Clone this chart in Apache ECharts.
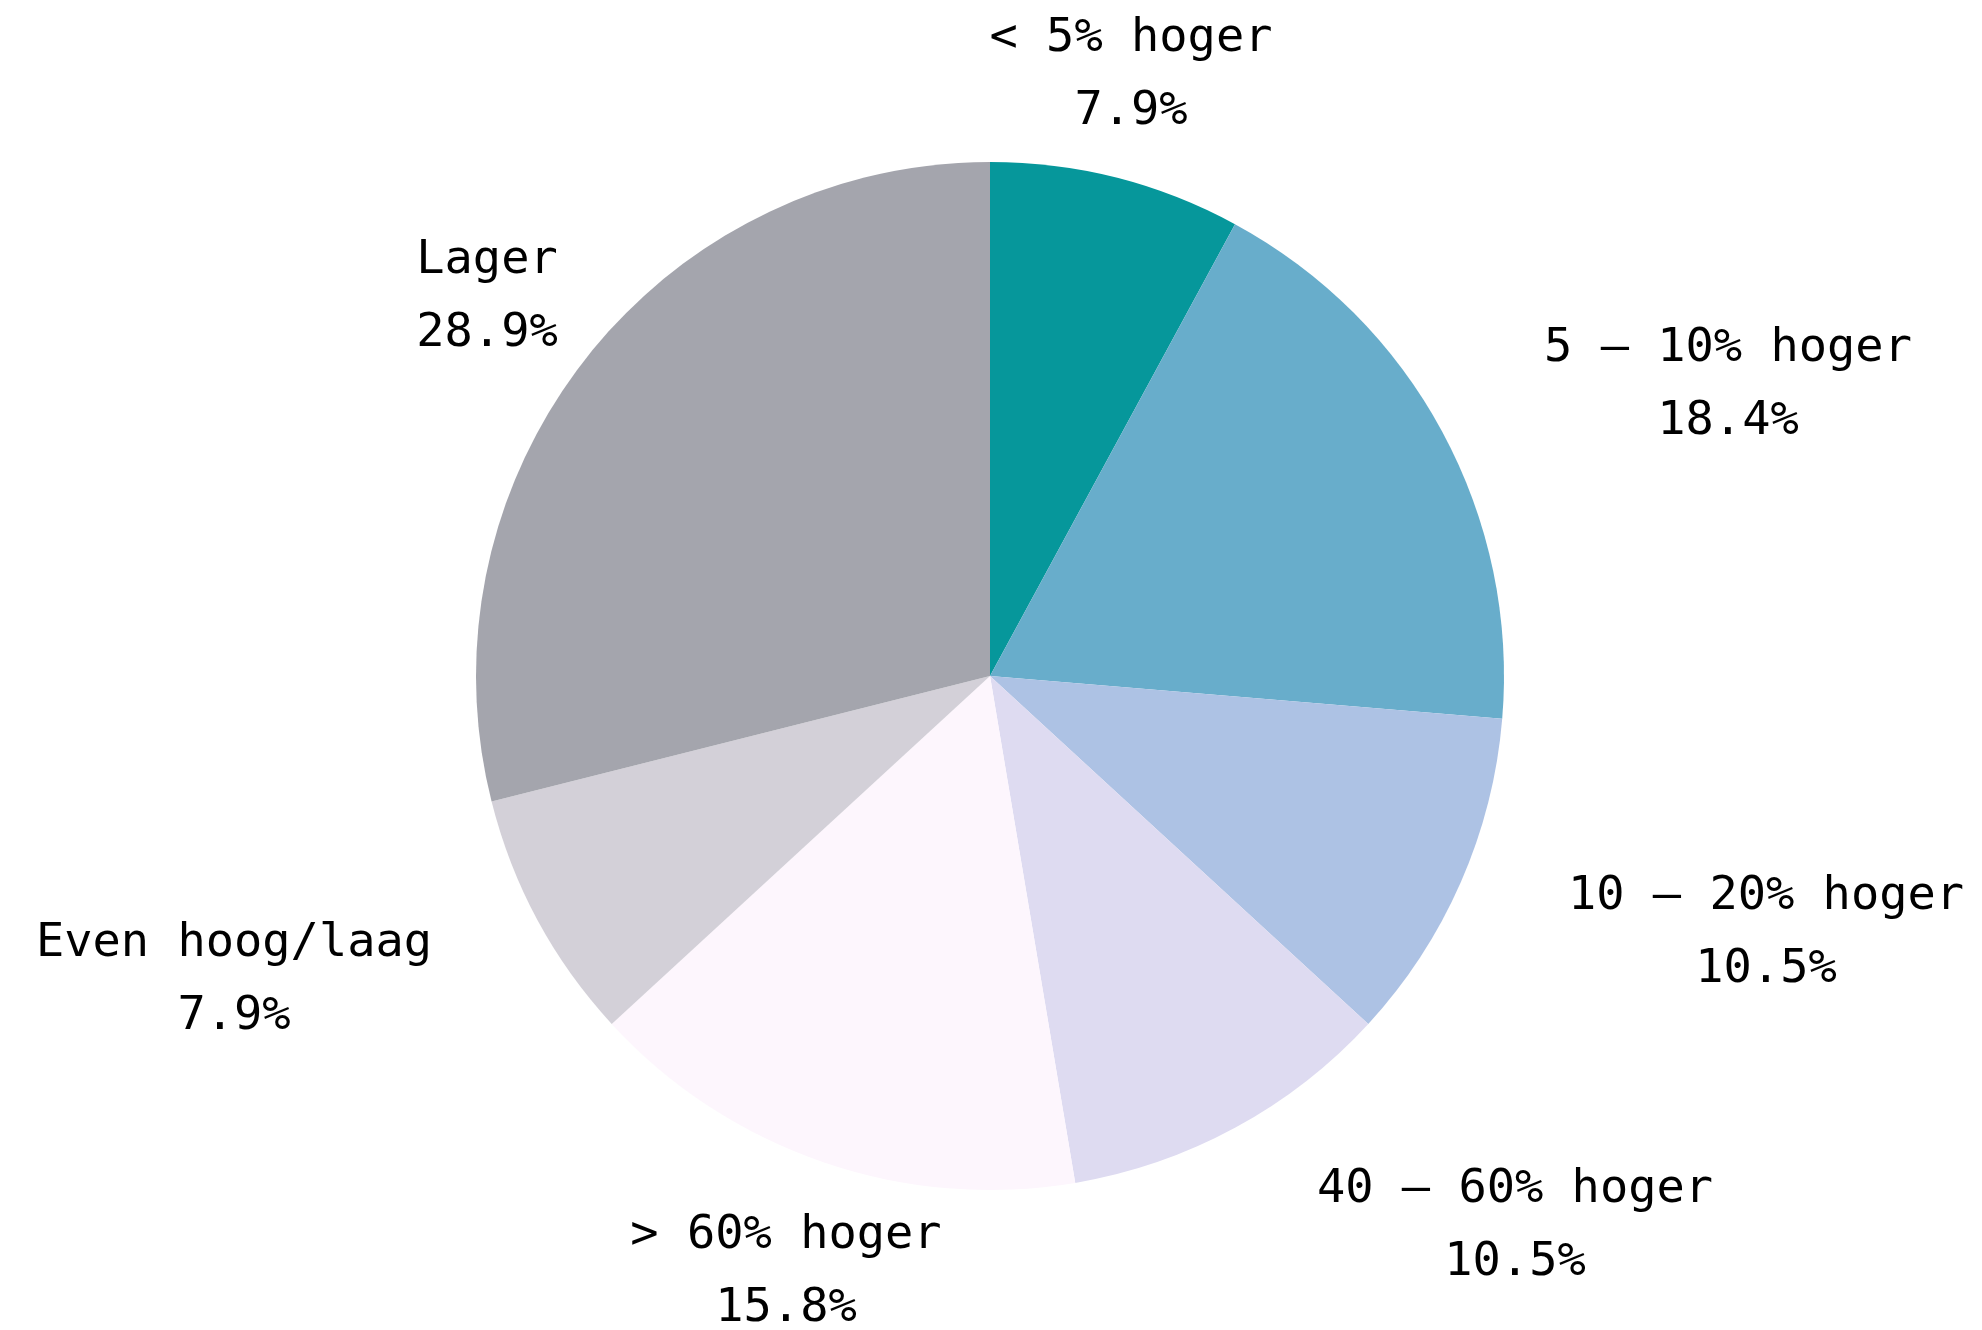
<!DOCTYPE html>
<html>
<head>
<meta charset="utf-8">
<script src="https://cdn.jsdelivr.net/npm/echarts@6/dist/echarts.min.js"></script>
<style>
html,body{margin:0;padding:0;background:#ffffff;}
#chart{width:1982px;height:1330px;}
</style>
</head>
<body>
<div id="chart"></div>
<script>
// Data
const categories = ['< 5% hoger', '5 – 10% hoger', '10 – 20% hoger', '40 – 60% hoger', '> 60% hoger', 'Even hoog/laag', 'Lager'];
const percentages = [7.9, 18.4, 10.5, 10.5, 15.8, 7.9, 28.9];

// Styling
const sliceColors = ['#06979b', '#68adcb', '#adc2e4', '#dedbf1', '#fdf6fd', '#d3d0d8', '#a4a5ad'];
// Label block centres (layout only)
const labelCentres = [[1131, 75], [1728, 385], [1766, 933], [1515, 1226], [786, 1272], [234, 980], [487, 297]];

const chart = echarts.init(document.getElementById('chart'), null, {renderer: 'canvas'});
chart.setOption({
  animation: false,
  backgroundColor: '#ffffff',
  series: [{
    type: 'pie',
    center: [990, 676],
    radius: [0, 514],
    startAngle: 90,
    clockwise: true,
    avoidLabelOverlap: false,
    emphasis: {disabled: true},
    itemStyle: {borderWidth: 0},
    label: {
      show: true,
      position: 'outside',
      formatter: p => p.name + '\n' + p.value.toFixed(1) + '%',
      fontFamily: '"DejaVu Sans Mono", monospace',
      fontWeight: 'normal',
      fontSize: 47,
      lineHeight: 73,
      color: '#000000',
      align: 'center'
    },
    labelLine: {show: false},
    labelLayout: function (params) {
      const c = labelCentres[params.dataIndex];
      return {x: c[0], y: c[1], align: 'center', verticalAlign: 'middle'};
    },
    data: categories.map((name, i) => ({
      name: name,
      value: percentages[i],
      itemStyle: {color: sliceColors[i]}
    }))
  }]
});
</script>
</body>
</html>
